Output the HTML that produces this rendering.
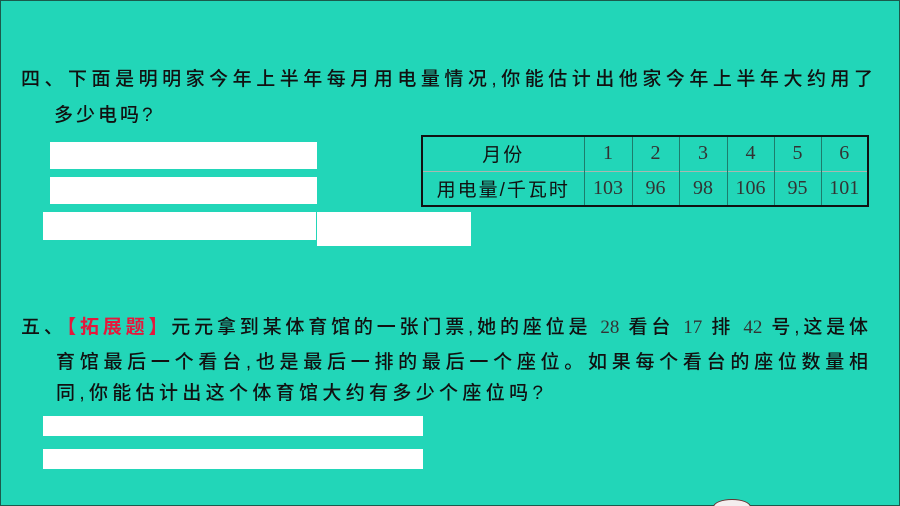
<!DOCTYPE html>
<html><head><meta charset="utf-8"><style>
html,body{margin:0;padding:0;overflow:hidden;width:900px;height:506px}
body{background:#22d6b8;position:relative;box-sizing:border-box;border:1px solid #1b5a4c;font-family:"Liberation Sans","Noto Sans CJK SC",sans-serif;color:#111}
.l{position:absolute;font-size:19px;line-height:22px;white-space:nowrap;text-align:justify;text-align-last:justify;font-weight:500}
.w{position:absolute;background:#fff}
.n{font-family:"Liberation Serif",serif;color:#333;font-weight:normal}
.r{color:#e5183c;font-weight:bold}
table{position:absolute;left:420px;top:134px;width:446px;height:72px;border-collapse:collapse;border:2px solid #111;table-layout:fixed}
td{border-left:1px solid #1d7d6c;border-top:1px solid #a8b8b0;text-align:center;font-family:"Liberation Serif",serif;font-size:20px;color:#333;padding:0}
td.h{font-family:"Liberation Sans","Noto Sans CJK SC",sans-serif;font-size:19px;color:#111;letter-spacing:2px}
</style></head><body>
<div class="l" style="left:20px;top:68px;width:852px">四、下面是明明家今年上半年每月用电量情况,你能估计出他家今年上半年大约用了</div>
<div class="l" style="left:53px;top:104px;letter-spacing:3px;text-align:left;text-align-last:left">多少电吗?</div>
<div class="w" style="left:49px;top:141px;width:267px;height:27px"></div>
<div class="w" style="left:49px;top:176px;width:267px;height:27px"></div>
<div class="w" style="left:42px;top:211px;width:273px;height:28px"></div>
<div class="w" style="left:316px;top:211px;width:154px;height:34px"></div>
<table>
<colgroup><col style="width:162px"><col style="width:48px"><col style="width:47px"><col style="width:48px"><col style="width:47px"><col style="width:47px"><col style="width:47px"></colgroup>
<tr><td class="h">月份</td><td>1</td><td>2</td><td>3</td><td>4</td><td>5</td><td>6</td></tr>
<tr><td class="h">用电量/千瓦时</td><td>103</td><td>96</td><td>98</td><td>106</td><td>95</td><td>101</td></tr>
</table>
<div class="l" style="left:20px;top:316px;width:847px">五、<span class="r">【拓展题】</span>元元拿到某体育馆的一张门票,她的座位是 <span class="n">28</span> 看台 <span class="n">17</span> 排 <span class="n">42</span> 号,这是体</div>
<div class="l" style="left:55px;top:351px;width:812px">育馆最后一个看台,也是最后一排的最后一个座位。如果每个看台的座位数量相</div>
<div class="l" style="left:55px;top:382px;width:487px">同,你能估计出这个体育馆大约有多少个座位吗?</div>
<div class="w" style="left:42px;top:415px;width:380px;height:20px"></div>
<div class="w" style="left:42px;top:448px;width:380px;height:20px"></div>
<div style="position:absolute;left:712px;top:498px;width:36px;height:14px;border-radius:50%;background:#f4eeee;border:1px solid #6a3030"></div>
</body></html>
